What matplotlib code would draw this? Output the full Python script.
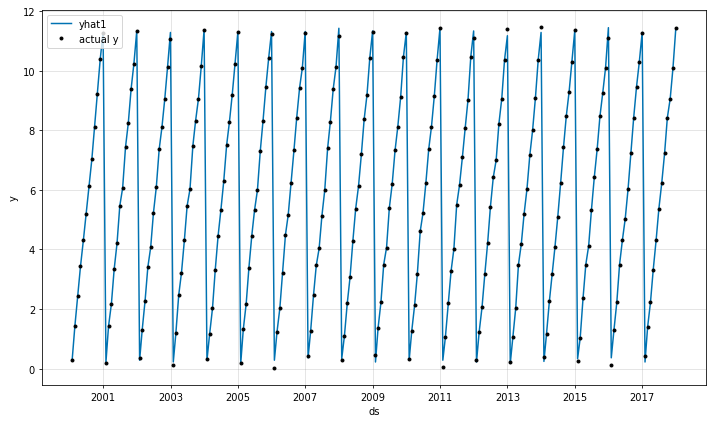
import matplotlib
matplotlib.use("Agg")
import matplotlib.pyplot as plt
import matplotlib.dates as mdates
import numpy as np
import pandas as pd

start_date = "2000-01-31"
n_years = 18

# actual y, one row per year (Jan..Dec), 2000..2017
actual_y = [
    [0.30, 1.42, 2.43, 3.43, 4.30, 5.19, 6.12, 7.02, 8.12, 9.22, 10.39, 11.25],
    [0.19, 1.42, 2.17, 3.33, 4.20, 5.46, 6.06, 7.43, 8.23, 9.39, 10.23, 11.33],
    [0.36, 1.30, 2.27, 3.40, 4.07, 5.23, 6.09, 7.36, 8.10, 9.06, 10.13, 11.07],
    [0.12, 1.19, 2.47, 3.22, 4.30, 5.46, 6.02, 7.47, 8.32, 9.06, 10.14, 11.37],
    [0.32, 1.16, 2.02, 3.32, 4.46, 5.32, 6.29, 7.49, 8.26, 9.19, 10.22, 11.29],
    [0.19, 1.32, 2.17, 3.39, 4.46, 5.32, 5.98, 7.30, 8.32, 9.46, 10.42, 11.23],
    [0.02, 1.22, 2.02, 3.22, 4.49, 5.16, 6.23, 7.32, 8.42, 9.42, 10.09, 11.26],
    [0.42, 1.26, 2.46, 3.46, 4.03, 5.12, 5.99, 7.39, 8.29, 9.39, 10.12, 11.17],
    [0.29, 1.09, 2.19, 3.06, 4.29, 5.36, 6.12, 7.19, 8.36, 9.19, 10.42, 11.29],
    [0.46, 1.36, 2.22, 3.49, 4.06, 5.39, 6.19, 7.32, 8.12, 9.12, 10.46, 11.26],
    [0.32, 1.26, 2.12, 3.19, 4.61, 5.22, 6.22, 7.36, 8.12, 9.16, 10.36, 11.43],
    [0.06, 1.06, 2.19, 3.26, 4.02, 5.49, 6.16, 7.09, 8.06, 9.02, 10.46, 11.09],
    [0.30, 1.23, 2.06, 3.16, 4.22, 5.43, 6.42, 6.99, 8.22, 9.06, 10.36, 11.39],
    [0.22, 1.06, 2.02, 3.49, 4.19, 5.19, 6.02, 7.16, 7.99, 9.09, 10.36, 11.46],
    [0.39, 1.16, 2.26, 3.16, 4.09, 5.09, 6.22, 7.42, 8.46, 9.29, 10.29, 11.36],
    [0.26, 1.02, 2.36, 3.49, 4.12, 5.32, 6.42, 7.36, 8.46, 9.26, 10.09, 11.09],
    [0.12, 1.29, 2.22, 3.49, 4.32, 5.02, 6.02, 7.22, 8.42, 9.46, 10.29, 11.26],
    [0.42, 1.39, 2.22, 3.32, 4.30, 5.36, 6.22, 7.22, 8.42, 9.06, 10.09, 11.43],
]

# model forecast yhat1, one row per year (Jan..Dec)
yhat1 = [
    [0.30, 1.42, 2.43, 3.43, 4.30, 5.19, 6.12, 7.02, 8.12, 9.22, 10.39, 11.28],
    [0.22, 1.42, 2.17, 3.33, 4.20, 5.46, 6.06, 7.43, 8.23, 9.39, 10.23, 11.33],
    [0.28, 1.30, 2.27, 3.40, 4.07, 5.23, 6.09, 7.36, 8.10, 9.06, 10.13, 11.28],
    [0.22, 1.19, 2.47, 3.22, 4.30, 5.46, 6.02, 7.47, 8.32, 9.06, 10.14, 11.37],
    [0.28, 1.16, 2.02, 3.32, 4.46, 5.32, 6.29, 7.49, 8.26, 9.19, 10.22, 11.29],
    [0.17, 1.32, 2.17, 3.39, 4.46, 5.32, 5.98, 7.30, 8.32, 9.46, 10.42, 11.31],
    [0.28, 1.22, 2.02, 3.22, 4.49, 5.16, 6.23, 7.32, 8.42, 9.42, 10.09, 11.31],
    [0.36, 1.26, 2.46, 3.46, 4.03, 5.12, 5.99, 7.39, 8.29, 9.39, 10.12, 11.42],
    [0.33, 1.09, 2.19, 3.06, 4.29, 5.36, 6.12, 7.19, 8.36, 9.19, 10.42, 11.33],
    [0.22, 1.36, 2.22, 3.49, 4.06, 5.39, 6.19, 7.32, 8.12, 9.12, 10.46, 11.28],
    [0.28, 1.26, 2.12, 3.19, 4.61, 5.22, 6.22, 7.36, 8.12, 9.16, 10.36, 11.42],
    [0.28, 1.06, 2.19, 3.26, 4.02, 5.49, 6.16, 7.09, 8.06, 9.02, 10.46, 11.33],
    [0.22, 1.23, 2.06, 3.16, 4.22, 5.43, 6.42, 6.99, 8.22, 9.06, 10.36, 11.17],
    [0.17, 1.06, 2.02, 3.49, 4.19, 5.19, 6.02, 7.16, 7.99, 9.09, 10.36, 11.28],
    [0.24, 1.16, 2.26, 3.16, 4.09, 5.09, 6.22, 7.42, 8.46, 9.29, 10.29, 11.33],
    [0.33, 1.02, 2.36, 3.49, 4.12, 5.32, 6.42, 7.36, 8.46, 9.26, 10.09, 11.44],
    [0.36, 1.29, 2.22, 3.49, 4.32, 5.02, 6.02, 7.22, 8.42, 9.46, 10.29, 11.28],
    [0.22, 1.39, 2.22, 3.32, 4.30, 5.36, 6.22, 7.22, 8.42, 9.06, 10.09, 11.43],
]

tick_years = ["2001", "2003", "2005", "2007", "2009", "2011", "2013", "2015", "2017"]
y_ticks = [0, 2, 4, 6, 8, 10, 12]

ds = pd.date_range(start_date, periods=12 * n_years, freq="ME")
y_flat = np.array(actual_y).ravel()
yhat_flat = np.array(yhat1).ravel()

fig = plt.figure(figsize=(10, 5.955), dpi=71.2)
ax = fig.add_axes([0.059, 0.0896, 0.9326, 0.8844])

ax.plot(ds, yhat_flat, ls="-", c="#0072B2", lw=1.5, label="yhat1")
ax.plot(ds, y_flat, "k.", markersize=6, label="actual y")

ax.grid(True, which="major", c="gray", ls="-", lw=1, alpha=0.2)
ax.set_xticks([pd.Timestamp(f"{t}-01-01") for t in tick_years])
ax.xaxis.set_major_formatter(mdates.DateFormatter("%Y"))
ax.set_yticks(y_ticks)
ax.set_xlabel("ds")
ax.set_ylabel("y")
ax.legend(loc="upper left")

fig.savefig("out.png", dpi=71.2)
